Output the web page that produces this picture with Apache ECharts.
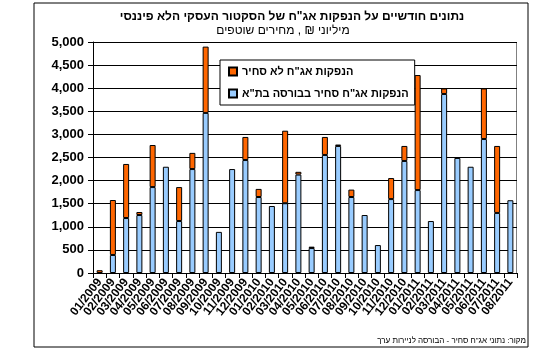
<!DOCTYPE html>
<html>
<head>
<meta charset="utf-8">
<script src="https://cdn.jsdelivr.net/npm/echarts@6/dist/echarts.min.js"></script>
<style>
html,body{margin:0;padding:0;background:#fff;}
#c{width:551px;height:355px;}
</style>
</head>
<body>
<div id="c"></div>
<script>
var months = ["01/2009","02/2009","03/2009","04/2009","05/2009","06/2009","07/2009","08/2009","09/2009","10/2009","11/2009","12/2009",
"01/2010","02/2010","03/2010","04/2010","05/2010","06/2010","07/2010","08/2010","09/2010","10/2010","11/2010","12/2010",
"01/2011","02/2011","03/2011","04/2011","05/2011","06/2011","07/2011","08/2011"];
// traded bonds (TASE) - blue
var tradedValues = [0,390,1190,1255,1860,2300,1125,2250,3465,890,2250,2445,
1645,1450,1510,2130,540,2555,2750,1645,1255,605,1600,2425,
1795,1125,3875,2490,2300,2900,1300,1575];
// non-traded bonds - orange
var nonTradedValues = [60,1190,1170,65,910,0,735,350,1435,0,0,500,
175,0,1570,60,30,390,30,160,0,0,455,325,
2490,0,120,0,0,1095,1450,0];
var yTicks = [0,500,1000,1500,2000,2500,3000,3500,4000,4500,5000];
var titleText = 'נתונים חודשיים על הנפקות אג"ח של הסקטור העסקי הלא פיננסי';
var subtitleText = 'מיליוני ₪ , מחירים שוטפים';
var sourceText = 'מקור: נתוני אג"ח סחיר - הבורסה לניירות ערך';
var nameNonTraded = 'הנפקות אג"ח לא סחיר';
var nameTraded = 'הנפקות אג"ח סחיר בבורסה בת"א';

function clean(a){return a.map(function(v){return v===0?'-':v;});}

var chart = echarts.init(document.getElementById('c'), null, {renderer:'canvas'});
var FONT = 'Liberation Sans, Arial, sans-serif';
var option = {
  animation:false,
  backgroundColor:'#fff',
  textStyle:{fontFamily:FONT},
  graphic:[
    {type:'rect', shape:{x:34,y:3,width:494,height:344}, style:{fill:'none',stroke:'#000',lineWidth:1}, z:-10},
    {type:'rect', shape:{x:93.5,y:42.5,width:423,height:231}, style:{fill:'none',stroke:'#808080',lineWidth:1}, z:-5},
    {type:'text', x:292, y:17, style:{text:titleText, font:'bold 12px '+FONT, fill:'#000', textAlign:'center', textVerticalAlign:'middle'}},
    {type:'text', x:283, y:31, style:{text:subtitleText, font:'12px '+FONT, fill:'#000', textAlign:'center', textVerticalAlign:'middle'}},
    {type:'text', x:526, y:341, style:{text:sourceText, font:'8px '+FONT, fill:'#000', textAlign:'right', textVerticalAlign:'middle'}}
  ],
  legend:{
    left:220, top:60, width:182, height:40,
    orient:'vertical',
    data:[nameNonTraded, nameTraded],
    backgroundColor:'#fff', borderColor:'#000', borderWidth:1,
    padding:[6,6,6,8],
    itemGap:11,
    itemWidth:8, itemHeight:8,
    icon:'rect',
    textStyle:{fontFamily:FONT, fontWeight:'bold', fontSize:11, color:'#000'}
  },
  grid:{left:93, right:34, top:42, bottom:82, containLabel:false},
  xAxis:{
    type:'category', data:months,
    axisLine:{lineStyle:{color:'#000',width:1}},
    axisTick:{show:true, alignWithLabel:false, length:5, lineStyle:{color:'#000'}},
    axisLabel:{interval:0, rotate:52, fontSize:12, fontWeight:'bold', color:'#000', margin:7, fontFamily:FONT}
  },
  yAxis:{
    type:'value', min:0, max:5000, interval:500,
    axisLine:{show:true, lineStyle:{color:'#000'}},
    axisTick:{show:true, length:5, lineStyle:{color:'#000'}},
    splitLine:{show:true, lineStyle:{color:'#000', width:1}},
    axisLabel:{fontSize:13, fontWeight:'bold', color:'#000', margin:9, fontFamily:FONT,
      formatter:function(v){return yTicks.indexOf(v)>=0 ? v.toLocaleString('en-US') : '';}}
  },
  series:[
    {name:nameTraded, type:'bar', stack:'s', data:clean(tradedValues), barWidth:6,
     itemStyle:{color:'#99CCFF', borderColor:'#000', borderWidth:1}},
    {name:nameNonTraded, type:'bar', stack:'s', data:clean(nonTradedValues), barWidth:6,
     itemStyle:{color:'#FF6600', borderColor:'#000', borderWidth:1}}
  ]
};
chart.setOption(option);
</script>
</body>
</html>
